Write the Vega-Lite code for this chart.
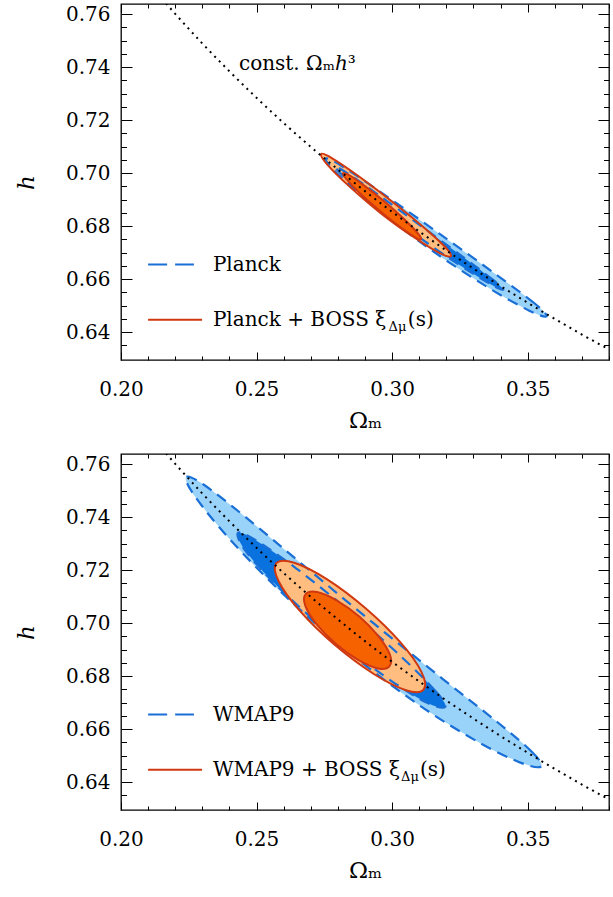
{
  "$schema": "https://vega.github.io/schema/vega-lite/v6.json",
  "autosize": {"type": "pad"},
  "padding": {"left": 14, "top": 2, "right": 5, "bottom": 5},
  "background": "white",
  "bounds": "flush",
  "spacing": 94,
  "config": {
    "view": {"stroke": "#000", "strokeWidth": 1.3},
    "axis": {"grid": false, "domain": false, "tickColor": "#000", "tickWidth": 1, "labelFont": "DejaVu Serif", "labelFontSize": 20, "labelColor": "#000", "titleFont": "DejaVu Serif", "titleFontSize": 23, "titleFontWeight": "normal", "titleColor": "#000", "labelOverlap": false, "labelFlush": false, "labelBound": false},
    "text": {"font": "DejaVu Serif", "fontSize": 20, "color": "#000"}
  },
  "datasets": {
    "c": [
      {"p":"t","s":"b95","i":0,"om":0.3570,"h":0.6460},{"p":"t","s":"b95","i":1,"om":0.3525,"h":0.6509},{"p":"t","s":"b95","i":2,"om":0.3383,"h":0.6618},{"p":"t","s":"b95","i":3,"om":0.3182,"h":0.6766},{"p":"t","s":"b95","i":4,"om":0.2975,"h":0.6916},{"p":"t","s":"b95","i":5,"om":0.2819,"h":0.7024},{"p":"t","s":"b95","i":6,"om":0.2755,"h":0.7055},{"p":"t","s":"b95","i":7,"om":0.2800,"h":0.6996},{"p":"t","s":"b95","i":8,"om":0.2942,"h":0.6868},{"p":"t","s":"b95","i":9,"om":0.3143,"h":0.6711},{"p":"t","s":"b95","i":10,"om":0.3350,"h":0.6571},{"p":"t","s":"b95","i":11,"om":0.3506,"h":0.6481},
      {"p":"t","s":"b68","i":0,"om":0.3410,"h":0.6560},{"p":"t","s":"b68","i":1,"om":0.3374,"h":0.6596},{"p":"t","s":"b68","i":2,"om":0.3265,"h":0.6681},{"p":"t","s":"b68","i":3,"om":0.3111,"h":0.6797},{"p":"t","s":"b68","i":4,"om":0.2955,"h":0.6914},{"p":"t","s":"b68","i":5,"om":0.2837,"h":0.6998},{"p":"t","s":"b68","i":6,"om":0.2790,"h":0.7025},{"p":"t","s":"b68","i":7,"om":0.2826,"h":0.6983},{"p":"t","s":"b68","i":8,"om":0.2935,"h":0.6888},{"p":"t","s":"b68","i":9,"om":0.3089,"h":0.6766},{"p":"t","s":"b68","i":10,"om":0.3246,"h":0.6655},{"p":"t","s":"b68","i":11,"om":0.3363,"h":0.6581},
      {"p":"t","s":"o95","i":0,"om":0.3217,"h":0.6687},{"p":"t","s":"o95","i":1,"om":0.3194,"h":0.6723},{"p":"t","s":"o95","i":2,"om":0.3113,"h":0.6799},{"p":"t","s":"o95","i":3,"om":0.2996,"h":0.6896},{"p":"t","s":"o95","i":4,"om":0.2873,"h":0.6991},{"p":"t","s":"o95","i":5,"om":0.2779,"h":0.7056},{"p":"t","s":"o95","i":6,"om":0.2738,"h":0.7072},{"p":"t","s":"o95","i":7,"om":0.2761,"h":0.7032},{"p":"t","s":"o95","i":8,"om":0.2842,"h":0.6950},{"p":"t","s":"o95","i":9,"om":0.2959,"h":0.6848},{"p":"t","s":"o95","i":10,"om":0.3082,"h":0.6757},{"p":"t","s":"o95","i":11,"om":0.3176,"h":0.6698},
      {"p":"t","s":"o68","i":0,"om":0.3107,"h":0.6751},{"p":"t","s":"o68","i":1,"om":0.3093,"h":0.6775},{"p":"t","s":"o68","i":2,"om":0.3045,"h":0.6826},{"p":"t","s":"o68","i":3,"om":0.2975,"h":0.6890},{"p":"t","s":"o68","i":4,"om":0.2901,"h":0.6950},{"p":"t","s":"o68","i":5,"om":0.2844,"h":0.6991},{"p":"t","s":"o68","i":6,"om":0.2819,"h":0.7000},{"p":"t","s":"o68","i":7,"om":0.2832,"h":0.6976},{"p":"t","s":"o68","i":8,"om":0.2880,"h":0.6925},{"p":"t","s":"o68","i":9,"om":0.2951,"h":0.6861},{"p":"t","s":"o68","i":10,"om":0.3024,"h":0.6801},{"p":"t","s":"o68","i":11,"om":0.3082,"h":0.6760},
      {"p":"b","s":"b95","i":0,"om":0.3550,"h":0.6460},{"p":"b","s":"b95","i":1,"om":0.3517,"h":0.6513},{"p":"b","s":"b95","i":2,"om":0.3390,"h":0.6625},{"p":"b","s":"b95","i":3,"om":0.3186,"h":0.6790},{"p":"b","s":"b95","i":4,"om":0.2939,"h":0.6993},{"p":"b","s":"b95","i":5,"om":0.2685,"h":0.7208},{"p":"b","s":"b95","i":6,"om":0.2463,"h":0.7397},{"p":"b","s":"b95","i":7,"om":0.2307,"h":0.7521},{"p":"b","s":"b95","i":8,"om":0.2240,"h":0.7551},{"p":"b","s":"b95","i":9,"om":0.2273,"h":0.7478},{"p":"b","s":"b95","i":10,"om":0.2400,"h":0.7318},{"p":"b","s":"b95","i":11,"om":0.2603,"h":0.7105},{"p":"b","s":"b95","i":12,"om":0.2851,"h":0.6882},{"p":"b","s":"b95","i":13,"om":0.3105,"h":0.6687},{"p":"b","s":"b95","i":14,"om":0.3327,"h":0.6546},{"p":"b","s":"b95","i":15,"om":0.3483,"h":0.6470},
      {"p":"b","s":"b68","i":0,"om":0.3196,"h":0.6684},{"p":"b","s":"b68","i":1,"om":0.3159,"h":0.6745},{"p":"b","s":"b68","i":2,"om":0.3029,"h":0.6878},{"p":"b","s":"b68","i":3,"om":0.2842,"h":0.7046},{"p":"b","s":"b68","i":4,"om":0.2647,"h":0.7206},{"p":"b","s":"b68","i":5,"om":0.2497,"h":0.7313},{"p":"b","s":"b68","i":6,"om":0.2431,"h":0.7340},{"p":"b","s":"b68","i":7,"om":0.2461,"h":0.7270},{"p":"b","s":"b68","i":8,"om":0.2585,"h":0.7131},{"p":"b","s":"b68","i":9,"om":0.2771,"h":0.6960},{"p":"b","s":"b68","i":10,"om":0.2968,"h":0.6803},{"p":"b","s":"b68","i":11,"om":0.3123,"h":0.6702},
      {"p":"b","s":"o95","i":0,"om":0.3116,"h":0.6749},{"p":"b","s":"o95","i":1,"om":0.3108,"h":0.6816},{"p":"b","s":"o95","i":2,"om":0.3030,"h":0.6928},{"p":"b","s":"o95","i":3,"om":0.2902,"h":0.7056},{"p":"b","s":"o95","i":4,"om":0.2759,"h":0.7166},{"p":"b","s":"o95","i":5,"om":0.2639,"h":0.7228},{"p":"b","s":"o95","i":6,"om":0.2573,"h":0.7226},{"p":"b","s":"o95","i":7,"om":0.2581,"h":0.7159},{"p":"b","s":"o95","i":8,"om":0.2659,"h":0.7047},{"p":"b","s":"o95","i":9,"om":0.2787,"h":0.6919},{"p":"b","s":"o95","i":10,"om":0.2931,"h":0.6809},{"p":"b","s":"o95","i":11,"om":0.3051,"h":0.6747},
      {"p":"b","s":"o68","i":0,"om":0.2990,"h":0.6837},{"p":"b","s":"o68","i":1,"om":0.2992,"h":0.6881},{"p":"b","s":"o68","i":2,"om":0.2950,"h":0.6950},{"p":"b","s":"o68","i":3,"om":0.2879,"h":0.7025},{"p":"b","s":"o68","i":4,"om":0.2795,"h":0.7086},{"p":"b","s":"o68","i":5,"om":0.2723,"h":0.7117},{"p":"b","s":"o68","i":6,"om":0.2681,"h":0.7109},{"p":"b","s":"o68","i":7,"om":0.2680,"h":0.7065},{"p":"b","s":"o68","i":8,"om":0.2721,"h":0.6996},{"p":"b","s":"o68","i":9,"om":0.2792,"h":0.6922},{"p":"b","s":"o68","i":10,"om":0.2876,"h":0.6860},{"p":"b","s":"o68","i":11,"om":0.2948,"h":0.6829}
    ],
    "curve": [
      {"om":0.215,"h":0.7659},{"om":0.22,"h":0.7601},{"om":0.23,"h":0.7489},{"om":0.24,"h":0.7384},{"om":0.25,"h":0.7284},{"om":0.26,"h":0.7189},{"om":0.27,"h":0.7099},{"om":0.28,"h":0.7014},{"om":0.29,"h":0.6932},{"om":0.30,"h":0.6854},{"om":0.31,"h":0.6780},{"om":0.32,"h":0.6708},{"om":0.33,"h":0.6640},{"om":0.34,"h":0.6574},{"om":0.35,"h":0.6511},{"om":0.36,"h":0.6450},{"om":0.37,"h":0.6391},{"om":0.38,"h":0.6335}
    ]
  },
  "vconcat": [
    {
      "width": 488, "height": 356,
      "resolve": {"axis": {"x": "independent", "y": "independent"}},
      "layer": [
        {"data": {"name": "c"}, "transform": [{"filter": "datum.p=='t' && datum.s=='b95'"}],
         "mark": {"type": "line", "interpolate": "cardinal-closed", "fill": "#99D3FA", "strokeOpacity": 0},
         "encoding": {"order": {"field": "i"},
           "x": {"field": "om", "type": "quantitative", "scale": {"domain": [0.2, 0.38], "nice": false, "zero": false},
             "axis": {"orient": "bottom", "values": [0.2,0.21,0.22,0.23,0.24,0.25,0.26,0.27,0.28,0.29,0.3,0.31,0.32,0.33,0.34,0.35,0.36,0.37,0.38], "tickSize": -8,
               "tickDash": {"condition": {"test": "abs(datum.value*20-round(datum.value*20))<0.001", "value": [8, 0]}, "value": [4, 30]},
               "labelExpr": "abs(datum.value*20-round(datum.value*20))<0.001 ? format(datum.value,'.2f') : ''",
               "labelPadding": 27, "title": "Ωₘ", "titleY": 67, "titleBaseline": "alphabetic"}},
           "y": {"field": "h", "type": "quantitative", "scale": {"domain": [0.6295, 0.7638], "nice": false, "zero": false},
             "axis": {"orient": "left", "values": [0.635,0.64,0.645,0.65,0.655,0.66,0.665,0.67,0.675,0.68,0.685,0.69,0.695,0.7,0.705,0.71,0.715,0.72,0.725,0.73,0.735,0.74,0.745,0.75,0.755,0.76], "tickSize": -11,
               "tickDash": {"condition": {"test": "abs(datum.value*50-round(datum.value*50))<0.001", "value": [11, 0]}, "value": [5.5, 30]},
               "labelExpr": "abs(datum.value*50-round(datum.value*50))<0.001 ? format(datum.value,'.2f') : ''",
               "labelPadding": 22, "title": "h", "titleFontStyle": "italic", "titleX": -88, "titleY": 178, "titleBaseline": "alphabetic", "titleAlign": "center"}}}},
        {"data": {"name": "c"}, "transform": [{"filter": "datum.p=='t' && datum.s=='b68'"}],
         "mark": {"type": "line", "interpolate": "cardinal-closed", "fill": "#0A72DE", "strokeOpacity": 0},
         "encoding": {"order": {"field": "i"},
           "x": {"field": "om", "type": "quantitative", "scale": {"domain": [0.2, 0.38], "nice": false, "zero": false}, "axis": null},
           "y": {"field": "h", "type": "quantitative", "scale": {"domain": [0.6295, 0.7638], "nice": false, "zero": false}, "axis": null}}},
        {"data": {"name": "c"}, "transform": [{"filter": "datum.p=='t' && datum.s=='o95'"}],
         "mark": {"type": "line", "interpolate": "cardinal-closed", "fill": "#FFBE80", "strokeOpacity": 0},
         "encoding": {"order": {"field": "i"},
           "x": {"field": "om", "type": "quantitative", "scale": {"domain": [0.2, 0.38], "nice": false, "zero": false}, "axis": null},
           "y": {"field": "h", "type": "quantitative", "scale": {"domain": [0.6295, 0.7638], "nice": false, "zero": false}, "axis": null}}},
        {"data": {"name": "c"}, "transform": [{"filter": "datum.p=='t' && (datum.s=='b95' || datum.s=='b68')"}],
         "mark": {"type": "line", "interpolate": "cardinal-closed", "stroke": "#1A6FD6", "strokeWidth": 2.2, "strokeDash": [11, 7]},
         "encoding": {"order": {"field": "i"}, "detail": {"field": "s"},
           "x": {"field": "om", "type": "quantitative", "scale": {"domain": [0.2, 0.38], "nice": false, "zero": false}, "axis": null},
           "y": {"field": "h", "type": "quantitative", "scale": {"domain": [0.6295, 0.7638], "nice": false, "zero": false}, "axis": null}}},
        {"data": {"name": "c"}, "transform": [{"filter": "datum.p=='t' && datum.s=='o68'"}],
         "mark": {"type": "line", "interpolate": "cardinal-closed", "fill": "#F76200", "strokeOpacity": 0},
         "encoding": {"order": {"field": "i"},
           "x": {"field": "om", "type": "quantitative", "scale": {"domain": [0.2, 0.38], "nice": false, "zero": false}, "axis": null},
           "y": {"field": "h", "type": "quantitative", "scale": {"domain": [0.6295, 0.7638], "nice": false, "zero": false}, "axis": null}}},
        {"data": {"name": "c"}, "transform": [{"filter": "datum.p=='t' && (datum.s=='o95' || datum.s=='o68')"}],
         "mark": {"type": "line", "interpolate": "cardinal-closed", "stroke": "#D03810", "strokeWidth": 2},
         "encoding": {"order": {"field": "i"}, "detail": {"field": "s"},
           "x": {"field": "om", "type": "quantitative", "scale": {"domain": [0.2, 0.38], "nice": false, "zero": false}, "axis": null},
           "y": {"field": "h", "type": "quantitative", "scale": {"domain": [0.6295, 0.7638], "nice": false, "zero": false}, "axis": null}}},
        {"data": {"name": "curve"},
         "mark": {"type": "line", "interpolate": "monotone", "stroke": "#000", "strokeWidth": 2, "strokeDash": [2, 4.5], "clip": true},
         "encoding": {
           "x": {"field": "om", "type": "quantitative", "scale": {"domain": [0.2, 0.38], "nice": false, "zero": false},
             "axis": {"orient": "top", "values": [0.2,0.21,0.22,0.23,0.24,0.25,0.26,0.27,0.28,0.29,0.3,0.31,0.32,0.33,0.34,0.35,0.36,0.37,0.38], "tickSize": -8,
               "tickDash": {"condition": {"test": "abs(datum.value*20-round(datum.value*20))<0.001", "value": [8, 0]}, "value": [4, 30]},
               "labels": false, "title": null}},
           "y": {"field": "h", "type": "quantitative", "scale": {"domain": [0.6295, 0.7638], "nice": false, "zero": false},
             "axis": {"orient": "right", "values": [0.635,0.64,0.645,0.65,0.655,0.66,0.665,0.67,0.675,0.68,0.685,0.69,0.695,0.7,0.705,0.71,0.715,0.72,0.725,0.73,0.735,0.74,0.745,0.75,0.755,0.76], "tickSize": -11,
               "tickDash": {"condition": {"test": "abs(datum.value*50-round(datum.value*50))<0.001", "value": [11, 0]}, "value": [5.5, 30]},
               "labels": false, "title": null}}}},
        {"data": {"values": [{}]}, "mark": {"type": "rule", "stroke": "#1A6FD6", "strokeWidth": 2, "strokeDash": [19, 8]},
         "encoding": {"x": {"datum": 0.21, "axis": null}, "x2": {"datum": 0.2269}, "y": {"datum": 0.6655, "axis": null}}},
        {"data": {"values": [{}]}, "mark": {"type": "rule", "stroke": "#D03810", "strokeWidth": 2},
         "encoding": {"x": {"datum": 0.21, "axis": null}, "x2": {"datum": 0.2299}, "y": {"datum": 0.6447, "axis": null}}},
        {"data": {"values": [{}]}, "mark": {"type": "text", "align": "left", "baseline": "middle"},
         "encoding": {"x": {"datum": 0.2339, "axis": null}, "y": {"datum": 0.6655, "axis": null}, "text": {"value": "Planck"}}},
        {"data": {"values": [{}]}, "mark": {"type": "text", "align": "left", "baseline": "middle"},
         "encoding": {"x": {"datum": 0.2339, "axis": null}, "y": {"datum": 0.6447, "axis": null}, "text": {"value": "Planck + BOSS ξ"}}},
        {"data": {"values": [{}]}, "mark": {"type": "text", "align": "left", "baseline": "middle", "fontSize": 13, "dy": 7},
         "encoding": {"x": {"datum": 0.2987, "axis": null}, "y": {"datum": 0.6447, "axis": null}, "text": {"value": "Δμ"}}},
        {"data": {"values": [{}]}, "mark": {"type": "text", "align": "left", "baseline": "middle"},
         "encoding": {"x": {"datum": 0.3058, "axis": null}, "y": {"datum": 0.6447, "axis": null}, "text": {"value": "(s)"}}},
        {"data": {"values": [{}]}, "mark": {"type": "text", "align": "left", "baseline": "middle"},
         "encoding": {"x": {"datum": 0.2435, "axis": null}, "y": {"datum": 0.7411, "axis": null}, "text": {"value": "const. Ωₘℎ³"}}}
      ]
    },
    {
      "width": 488, "height": 356,
      "resolve": {"axis": {"x": "independent", "y": "independent"}},
      "layer": [
        {"data": {"name": "c"}, "transform": [{"filter": "datum.p=='b' && datum.s=='b95'"}],
         "mark": {"type": "line", "interpolate": "cardinal-closed", "fill": "#99D3FA", "strokeOpacity": 0},
         "encoding": {"order": {"field": "i"},
           "x": {"field": "om", "type": "quantitative", "scale": {"domain": [0.2, 0.38], "nice": false, "zero": false},
             "axis": {"orient": "bottom", "values": [0.2,0.21,0.22,0.23,0.24,0.25,0.26,0.27,0.28,0.29,0.3,0.31,0.32,0.33,0.34,0.35,0.36,0.37,0.38], "tickSize": -8,
               "tickDash": {"condition": {"test": "abs(datum.value*20-round(datum.value*20))<0.001", "value": [8, 0]}, "value": [4, 30]},
               "labelExpr": "abs(datum.value*20-round(datum.value*20))<0.001 ? format(datum.value,'.2f') : ''",
               "labelPadding": 27, "title": "Ωₘ", "titleY": 67, "titleBaseline": "alphabetic"}},
           "y": {"field": "h", "type": "quantitative", "scale": {"domain": [0.6295, 0.7638], "nice": false, "zero": false},
             "axis": {"orient": "left", "values": [0.635,0.64,0.645,0.65,0.655,0.66,0.665,0.67,0.675,0.68,0.685,0.69,0.695,0.7,0.705,0.71,0.715,0.72,0.725,0.73,0.735,0.74,0.745,0.75,0.755,0.76], "tickSize": -11,
               "tickDash": {"condition": {"test": "abs(datum.value*50-round(datum.value*50))<0.001", "value": [11, 0]}, "value": [5.5, 30]},
               "labelExpr": "abs(datum.value*50-round(datum.value*50))<0.001 ? format(datum.value,'.2f') : ''",
               "labelPadding": 22, "title": "h", "titleFontStyle": "italic", "titleX": -88, "titleY": 178, "titleBaseline": "alphabetic", "titleAlign": "center"}}}},
        {"data": {"name": "c"}, "transform": [{"filter": "datum.p=='b' && datum.s=='b68'"}],
         "mark": {"type": "line", "interpolate": "cardinal-closed", "fill": "#0A72DE", "strokeOpacity": 0},
         "encoding": {"order": {"field": "i"},
           "x": {"field": "om", "type": "quantitative", "scale": {"domain": [0.2, 0.38], "nice": false, "zero": false}, "axis": null},
           "y": {"field": "h", "type": "quantitative", "scale": {"domain": [0.6295, 0.7638], "nice": false, "zero": false}, "axis": null}}},
        {"data": {"name": "c"}, "transform": [{"filter": "datum.p=='b' && datum.s=='o95'"}],
         "mark": {"type": "line", "interpolate": "cardinal-closed", "fill": "#FFBE80", "strokeOpacity": 0},
         "encoding": {"order": {"field": "i"},
           "x": {"field": "om", "type": "quantitative", "scale": {"domain": [0.2, 0.38], "nice": false, "zero": false}, "axis": null},
           "y": {"field": "h", "type": "quantitative", "scale": {"domain": [0.6295, 0.7638], "nice": false, "zero": false}, "axis": null}}},
        {"data": {"name": "c"}, "transform": [{"filter": "datum.p=='b' && (datum.s=='b95' || datum.s=='b68')"}],
         "mark": {"type": "line", "interpolate": "cardinal-closed", "stroke": "#1A6FD6", "strokeWidth": 2.2, "strokeDash": [11, 7]},
         "encoding": {"order": {"field": "i"}, "detail": {"field": "s"},
           "x": {"field": "om", "type": "quantitative", "scale": {"domain": [0.2, 0.38], "nice": false, "zero": false}, "axis": null},
           "y": {"field": "h", "type": "quantitative", "scale": {"domain": [0.6295, 0.7638], "nice": false, "zero": false}, "axis": null}}},
        {"data": {"name": "c"}, "transform": [{"filter": "datum.p=='b' && datum.s=='o68'"}],
         "mark": {"type": "line", "interpolate": "cardinal-closed", "fill": "#F76200", "strokeOpacity": 0},
         "encoding": {"order": {"field": "i"},
           "x": {"field": "om", "type": "quantitative", "scale": {"domain": [0.2, 0.38], "nice": false, "zero": false}, "axis": null},
           "y": {"field": "h", "type": "quantitative", "scale": {"domain": [0.6295, 0.7638], "nice": false, "zero": false}, "axis": null}}},
        {"data": {"name": "c"}, "transform": [{"filter": "datum.p=='b' && (datum.s=='o95' || datum.s=='o68')"}],
         "mark": {"type": "line", "interpolate": "cardinal-closed", "stroke": "#D03810", "strokeWidth": 2},
         "encoding": {"order": {"field": "i"}, "detail": {"field": "s"},
           "x": {"field": "om", "type": "quantitative", "scale": {"domain": [0.2, 0.38], "nice": false, "zero": false}, "axis": null},
           "y": {"field": "h", "type": "quantitative", "scale": {"domain": [0.6295, 0.7638], "nice": false, "zero": false}, "axis": null}}},
        {"data": {"name": "curve"},
         "mark": {"type": "line", "interpolate": "monotone", "stroke": "#000", "strokeWidth": 2, "strokeDash": [2, 4.5], "clip": true},
         "encoding": {
           "x": {"field": "om", "type": "quantitative", "scale": {"domain": [0.2, 0.38], "nice": false, "zero": false},
             "axis": {"orient": "top", "values": [0.2,0.21,0.22,0.23,0.24,0.25,0.26,0.27,0.28,0.29,0.3,0.31,0.32,0.33,0.34,0.35,0.36,0.37,0.38], "tickSize": -8,
               "tickDash": {"condition": {"test": "abs(datum.value*20-round(datum.value*20))<0.001", "value": [8, 0]}, "value": [4, 30]},
               "labels": false, "title": null}},
           "y": {"field": "h", "type": "quantitative", "scale": {"domain": [0.6295, 0.7638], "nice": false, "zero": false},
             "axis": {"orient": "right", "values": [0.635,0.64,0.645,0.65,0.655,0.66,0.665,0.67,0.675,0.68,0.685,0.69,0.695,0.7,0.705,0.71,0.715,0.72,0.725,0.73,0.735,0.74,0.745,0.75,0.755,0.76], "tickSize": -11,
               "tickDash": {"condition": {"test": "abs(datum.value*50-round(datum.value*50))<0.001", "value": [11, 0]}, "value": [5.5, 30]},
               "labels": false, "title": null}}}},
        {"data": {"values": [{}]}, "mark": {"type": "rule", "stroke": "#1A6FD6", "strokeWidth": 2, "strokeDash": [19, 8]},
         "encoding": {"x": {"datum": 0.21, "axis": null}, "x2": {"datum": 0.2269}, "y": {"datum": 0.6655, "axis": null}}},
        {"data": {"values": [{}]}, "mark": {"type": "rule", "stroke": "#D03810", "strokeWidth": 2},
         "encoding": {"x": {"datum": 0.21, "axis": null}, "x2": {"datum": 0.2299}, "y": {"datum": 0.6447, "axis": null}}},
        {"data": {"values": [{}]}, "mark": {"type": "text", "align": "left", "baseline": "middle"},
         "encoding": {"x": {"datum": 0.2339, "axis": null}, "y": {"datum": 0.6655, "axis": null}, "text": {"value": "WMAP9"}}},
        {"data": {"values": [{}]}, "mark": {"type": "text", "align": "left", "baseline": "middle"},
         "encoding": {"x": {"datum": 0.2339, "axis": null}, "y": {"datum": 0.6447, "axis": null}, "text": {"value": "WMAP9 + BOSS ξ"}}},
        {"data": {"values": [{}]}, "mark": {"type": "text", "align": "left", "baseline": "middle", "fontSize": 13, "dy": 7},
         "encoding": {"x": {"datum": 0.3033, "axis": null}, "y": {"datum": 0.6447, "axis": null}, "text": {"value": "Δμ"}}},
        {"data": {"values": [{}]}, "mark": {"type": "text", "align": "left", "baseline": "middle"},
         "encoding": {"x": {"datum": 0.3103, "axis": null}, "y": {"datum": 0.6447, "axis": null}, "text": {"value": "(s)"}}}
      ]
    }
  ]
}
